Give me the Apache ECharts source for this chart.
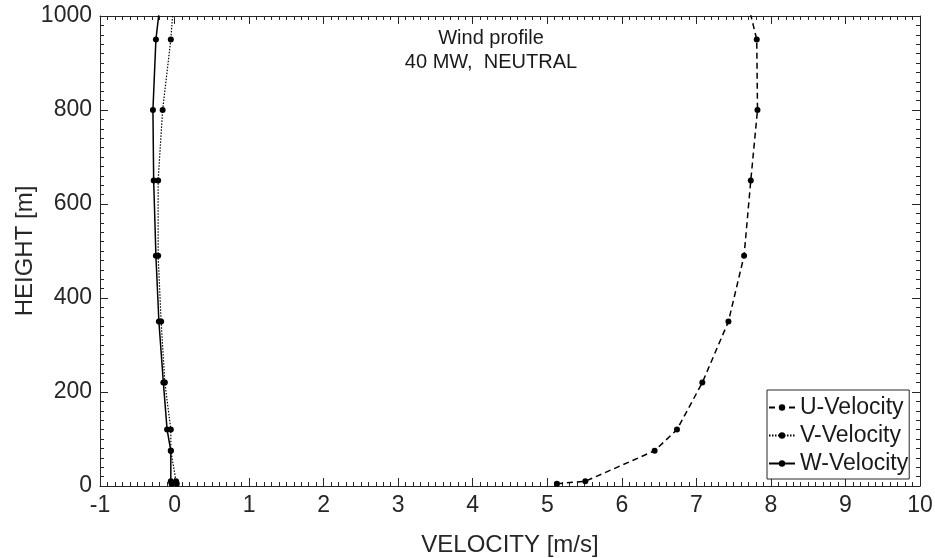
<!DOCTYPE html>
<html>
<head>
<meta charset="utf-8">
<script src="https://cdn.jsdelivr.net/npm/echarts@6/dist/echarts.min.js"></script>
<style>
html,body{margin:0;padding:0;background:#fff;}
#windChart{width:935px;height:558px;}
</style>
</head>
<body>
<div id="windChart"></div>
<script>
// heights of the profile points [m]
var heights = [5, 10, 75, 120, 220, 350, 490, 650, 800, 950, 1100];
// velocity components [m/s]
var uVel = [5.13, 5.51, 6.44, 6.74, 7.08, 7.43, 7.64, 7.73, 7.82, 7.81, 7.58];
var vVel = [0.03, 0.02, -0.05, -0.05, -0.13, -0.18, -0.22, -0.22, -0.16, -0.05, 0.02];
var wVel = [-0.04, -0.05, -0.05, -0.10, -0.15, -0.21, -0.25, -0.28, -0.29, -0.25, -0.14];
var seriesNames = ['U-Velocity', 'V-Velocity', 'W-Velocity'];
var titleLines = ['Wind profile', '40 MW,  NEUTRAL'];

var fontName = "'Liberation Sans', Arial, sans-serif";
var axisColor = '#262626';

function pairs(vals){
	var out = [];
	for(var i=0;i<vals.length;i++){
		out.push([vals[i], heights[i]]);
	}
	return out;
}

var charts = echarts.init(document.getElementById("windChart"));

// common axis look: ticks inward on all four sides (box)
function xAxisCfg(pos, showLabel){
	return {
		type:'value',
		position: pos,
		min:-1, max:10, interval:1,
		name: showLabel ? 'VELOCITY [m/s]' : '',
		nameLocation:'middle',
		nameGap:47,
		nameMoveOverlap:false,
		nameTextStyle:{fontSize:24, color:axisColor, fontFamily:fontName},
		axisLine:{show:true, onZero:false, lineStyle:{color:axisColor, width:1}},
		axisTick:{show:true, inside:true, length:8, lineStyle:{color:axisColor}},
		minorTick:{show:true, splitNumber:10, length:4, lineStyle:{color:axisColor}},
		axisLabel:{show:showLabel, fontSize:23, color:axisColor, fontFamily:fontName, margin:8,
			formatter:function(v){ return String(v); }},
		splitLine:{show:false}
	};
}
function yAxisCfg(pos, showLabel){
	return {
		type:'value',
		position: pos,
		min:0, max:1000, interval:200,
		name: showLabel ? 'HEIGHT [m]' : '',
		nameLocation:'middle',
		nameGap:63,
		nameMoveOverlap:false,
		nameTextStyle:{fontSize:24, color:axisColor, fontFamily:fontName},
		axisLine:{show:true, onZero:false, lineStyle:{color:axisColor, width:1}},
		axisTick:{show:true, inside:true, length:8, lineStyle:{color:axisColor}},
		minorTick:{show:true, splitNumber:10, length:4, lineStyle:{color:axisColor}},
		axisLabel:{show:showLabel, fontSize:23, color:axisColor, fontFamily:fontName, margin:8,
			formatter:function(v){ return String(v); }},
		splitLine:{show:false}
	};
}

var option = {
	animation:false,
	backgroundColor:'#fff',
	title:{
		text: titleLines.join('\n'),
		left:486,
		top:21,
		textAlign:'center',
		textStyle:{fontSize:20, fontWeight:'normal', color:'#1a1a1a', fontFamily:fontName, lineHeight:24}
	},
	grid:{
		left:100,
		right:15,
		top:16,
		bottom:72,
		containLabel:false,
		outerBoundsMode:'none'
	},
	legend:{
		data:seriesNames,
		orient:'vertical',
		left:767,
		top:390,
		padding:[6,1,4,1],
		itemGap:5,
		itemWidth:26,
		itemHeight:8,
		itemTextGap:1,
		backgroundColor:'#fff',
		borderColor:'#262626',
		borderWidth:1,
		borderRadius:0,
		textStyle:{fontSize:23, color:'#1a1a1a', fontFamily:fontName}
	},
	xAxis:[ xAxisCfg('bottom', true), xAxisCfg('top', false) ],
	yAxis:[ yAxisCfg('left', true), yAxisCfg('right', false) ],
	series:[
		{
			name:seriesNames[0],
			type:'line',
			data:pairs(uVel),
			symbol:'circle',
			symbolSize:6,
			itemStyle:{color:'#000'},
			lineStyle:{color:'#000', width:1.5, type:[6,4]}
		},
		{
			name:seriesNames[1],
			type:'line',
			data:pairs(vVel),
			symbol:'circle',
			symbolSize:6,
			itemStyle:{color:'#000'},
			lineStyle:{color:'#000', width:1.2, type:[1.5,1.5]}
		},
		{
			name:seriesNames[2],
			type:'line',
			data:pairs(wVel),
			symbol:'circle',
			symbolSize:6,
			itemStyle:{color:'#000'},
			lineStyle:{color:'#000', width:1.5, type:'solid'}
		}
	]
};
charts.setOption(option);
</script>
</body>
</html>
